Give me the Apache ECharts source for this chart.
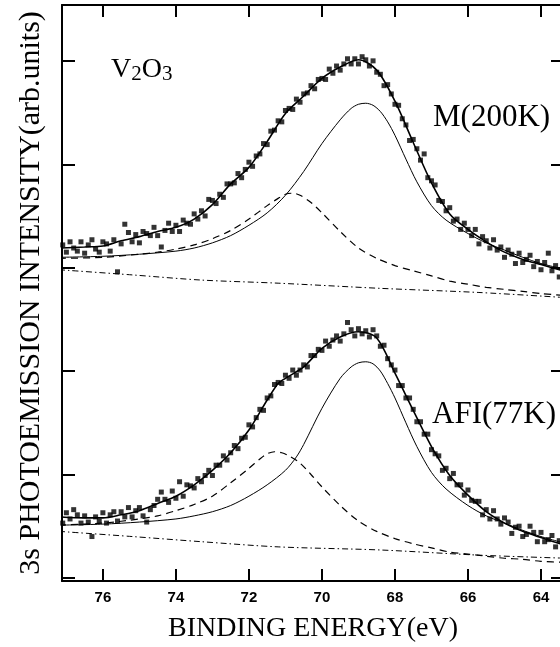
<!DOCTYPE html>
<html><head><meta charset="utf-8">
<script src="https://cdn.jsdelivr.net/npm/echarts@6/dist/echarts.min.js"></script>
<style>html,body{margin:0;padding:0;background:#fff}#c{width:560px;height:647px}</style>
</head><body><div id="c"></div>
<script>
// ---- tick values / titles ----
const xTicks = [64, 66, 68, 70, 72, 74, 76];
const yTicks = [0, 1, 2, 3, 4, 5];
const xTitle = 'BINDING ENERGY(eV)';
const yTitle = '3s PHOTOEMISSION INTENSITY(arb.units)';
const labelM = 'M(200K)';
const labelA = 'AFI(77K)';

// ---- measured points (binding energy, eV) ----
const dotEnergy = [77.1,77.0,76.9,76.8,76.7,76.6,76.5,76.4,76.3,76.2,76.1,76.0,75.9,75.8,75.7,75.6,75.5,75.4,75.3,75.2,75.1,75.0,74.9,74.8,74.7,74.6,74.5,74.4,74.3,74.2,74.1,74.0,73.9,73.8,73.7,73.6,73.5,73.4,73.3,73.2,73.1,73.0,72.9,72.8,72.7,72.6,72.5,72.4,72.3,72.2,72.1,72.0,71.9,71.8,71.7,71.6,71.5,71.4,71.3,71.2,71.1,71.0,70.9,70.8,70.7,70.6,70.5,70.4,70.3,70.2,70.1,70.0,69.9,69.8,69.7,69.6,69.5,69.4,69.3,69.2,69.1,69.0,68.9,68.8,68.7,68.6,68.5,68.4,68.3,68.2,68.1,68.0,67.9,67.8,67.7,67.6,67.5,67.4,67.3,67.2,67.1,67.0,66.9,66.8,66.7,66.6,66.5,66.4,66.3,66.2,66.1,66.0,65.9,65.8,65.7,65.6,65.5,65.4,65.3,65.2,65.1,65.0,64.9,64.8,64.7,64.6,64.5,64.4,64.3,64.2,64.1,64.0,63.9,63.8,63.7,63.6,63.5];
// M (200K) measured intensity
const mDots = [3.22,3.15,3.25,3.19,3.16,3.25,3.14,3.22,3.27,3.18,
3.15,3.25,3.23,3.16,3.27,2.96,3.23,3.42,3.34,3.25,
3.32,3.24,3.35,3.33,3.31,3.39,3.31,3.20,3.36,3.43,
3.35,3.41,3.35,3.46,3.43,3.42,3.52,3.47,3.55,3.50,
3.66,3.65,3.62,3.71,3.68,3.81,3.81,3.82,3.91,3.87,
3.95,4.02,3.98,4.08,4.10,4.20,4.19,4.32,4.33,4.42,
4.41,4.52,4.54,4.53,4.63,4.60,4.68,4.69,4.76,4.73,
4.82,4.83,4.82,4.92,4.88,4.95,4.91,4.97,5.02,4.97,
5.02,4.97,5.04,5.01,4.95,5.00,4.89,4.87,4.76,4.77,
4.68,4.58,4.57,4.44,4.38,4.23,4.24,4.15,4.04,4.10,
3.87,3.84,3.80,3.65,3.64,3.55,3.58,3.45,3.47,3.37,
3.43,3.37,3.31,3.37,3.23,3.30,3.26,3.19,3.27,3.17,
3.20,3.10,3.17,3.13,3.04,3.14,3.05,3.08,3.12,3.01,
3.06,2.98,3.05,3.14,2.97,3.02,2.91];
// AFI (77K) measured intensity
const aDots = [0.53,0.63,0.57,0.66,0.61,0.53,0.60,0.54,0.40,0.59,
0.55,0.63,0.53,0.61,0.64,0.55,0.64,0.59,0.68,0.59,
0.65,0.68,0.60,0.54,0.66,0.70,0.76,0.83,0.76,0.73,
0.84,0.77,0.93,0.79,0.90,0.89,0.87,0.96,0.93,0.99,
1.04,0.99,1.09,1.09,1.18,1.14,1.21,1.28,1.25,1.35,
1.36,1.48,1.46,1.55,1.63,1.62,1.74,1.76,1.87,1.89,
1.88,1.96,1.93,2.01,1.96,2.01,2.06,2.04,2.15,2.15,
2.21,2.20,2.29,2.24,2.30,2.34,2.29,2.36,2.47,2.40,
2.34,2.41,2.36,2.39,2.33,2.40,2.34,2.24,2.25,2.12,
2.06,2.01,1.86,1.86,1.74,1.74,1.63,1.51,1.51,1.39,
1.39,1.24,1.20,1.18,1.04,1.06,0.96,1.01,0.90,0.90,
0.80,0.85,0.75,0.74,0.74,0.61,0.66,0.57,0.65,0.57,
0.52,0.58,0.54,0.43,0.49,0.50,0.40,0.42,0.50,0.44,
0.35,0.44,0.35,0.37,0.41,0.30,0.36];

// ---- M (200K) fitted curves ----
const mFitEnergy = [77.2,76.5,76.0,75.5,75.0,74.5,74.0,73.5,73.0,72.5,72.0,71.5,71.0,70.5,70.0,69.5,69.0,68.5,68.0,67.5,67.0,66.5,66.0,65.5,65.0,64.5,64.0,63.3];
const mFit = [3.19,3.20,3.21,3.26,3.30,3.35,3.39,3.47,3.61,3.81,3.97,4.22,4.49,4.66,4.83,4.94,5.01,4.91,4.61,4.21,3.82,3.52,3.37,3.25,3.15,3.08,3.03,2.96];
const mMainEnergy = [77.2,76.0,75.0,74.0,73.5,73.0,72.5,72.0,71.5,71.0,70.5,70.0,69.5,69.2,69.0,68.8,68.6,68.4,68.2,68.0,67.7,67.4,67.0,66.6,66.0,65.5,65.0,64.5,64.0,63.3];
const mMain = [3.10,3.11,3.13,3.16,3.19,3.24,3.31,3.41,3.53,3.70,3.93,4.20,4.43,4.54,4.58,4.59,4.57,4.51,4.41,4.28,4.05,3.83,3.60,3.46,3.33,3.24,3.17,3.10,3.04,2.98];
const mSatEnergy = [77.2,76.0,75.0,74.5,74.0,73.5,73.0,72.5,72.0,71.5,71.2,71.0,70.8,70.6,70.3,70.0,69.5,69.0,68.5,68.0,67.5,67.0,66.5,66.0,65.5,65.0,64.5,64.0,63.3];
const mSat = [3.09,3.10,3.13,3.15,3.18,3.22,3.28,3.36,3.47,3.60,3.67,3.71,3.72,3.70,3.63,3.53,3.35,3.19,3.09,3.02,2.97,2.92,2.87,2.84,2.81,2.79,2.77,2.75,2.73];
const mBgEnergy = [77.2,75.2,73.3,71.2,68.4,65.7,63.3];
const mBg = [2.98,2.93,2.88,2.85,2.80,2.76,2.71];

// ---- AFI (77K) fitted curves ----
const aFitEnergy = [77.2,76.5,76.0,75.5,75.0,74.5,74.0,73.5,73.0,72.5,72.0,71.5,71.2,71.0,70.5,70.0,69.5,69.0,68.5,68.0,67.5,67.0,66.5,66.0,65.5,65.0,64.5,64.0,63.3];
const aFit = [0.59,0.58,0.58,0.61,0.65,0.72,0.79,0.90,1.04,1.21,1.43,1.72,1.88,1.93,2.04,2.22,2.33,2.38,2.32,1.98,1.62,1.27,0.99,0.80,0.64,0.53,0.45,0.39,0.31];
const aMainEnergy = [77.2,76.0,75.0,74.0,73.5,73.0,72.5,72.0,71.5,71.0,70.7,70.5,70.0,69.5,69.2,69.0,68.8,68.6,68.4,68.2,68.0,67.7,67.4,67.0,66.6,66.0,65.5,65.0,64.5,64.0,63.3];
const aMain = [0.51,0.52,0.54,0.57,0.60,0.64,0.70,0.79,0.90,1.04,1.17,1.29,1.64,1.93,2.04,2.08,2.09,2.07,2.00,1.88,1.74,1.50,1.27,1.02,0.86,0.70,0.60,0.53,0.46,0.40,0.33];
const aSatEnergy = [77.2,76.0,75.0,74.5,74.0,73.5,73.0,72.5,72.0,71.7,71.5,71.3,71.1,70.9,70.6,70.3,70.0,69.5,69.0,68.5,68.0,67.5,67.0,66.5,66.0,65.5,65.0,64.5,64.0,63.3];
const aSat = [0.51,0.53,0.57,0.60,0.65,0.71,0.79,0.92,1.06,1.15,1.20,1.22,1.21,1.18,1.11,1.00,0.88,0.70,0.55,0.45,0.38,0.33,0.29,0.25,0.23,0.21,0.19,0.18,0.16,0.15];
const aBgEnergy = [77.2,75.2,73.3,71.2,68.4,65.7,63.3];
const aBg = [0.45,0.40,0.35,0.30,0.27,0.22,0.19];

// ---- chart ----
const pairs = (e, v) => e.map((x, i) => [x, v[i]]);
const ink = '#000';
const serif = '"Liberation Serif", "Times New Roman", serif';

function lineSeries(e, v, width, type) {
  return { type: 'line', xAxisIndex: 0, yAxisIndex: 0, data: pairs(e, v),
    smooth: 0.3,
    showSymbol: false, symbol: 'none', clip: true,
    lineStyle: { color: ink, width: width, type: type } };
}
function dotSeries(v) {
  return { type: 'scatter', xAxisIndex: 0, yAxisIndex: 0, data: pairs(dotEnergy, v),
    symbol: 'rect', symbolSize: 5, itemStyle: { color: ink }, clip: true };
}

const xRange = { min: 63.37, max: 77.12 };
const yRange = { min: -0.03, max: 5.54 };
const axLine = { show: true, onZero: false, lineStyle: { color: ink, width: 2 } };

const chart = echarts.init(document.getElementById('c'), null, { renderer: 'canvas' });
chart.setOption({
  animation: false,
  backgroundColor: '#fff',
  grid: { left: 62, top: 5, right: -4, bottom: 66, outerBoundsMode: 'none', containLabel: false },
  xAxis: [
    { type: 'value', inverse: true, position: 'bottom', ...xRange,
      axisLine: axLine,
      axisTick: { show: true, inside: true, length: 12, customValues: xTicks, lineStyle: { color: ink, width: 2 } },
      axisLabel: { show: true, customValues: xTicks, margin: 9, color: ink,
        fontFamily: '"Liberation Sans", Arial, sans-serif', fontWeight: 'bold', fontSize: 15 },
      splitLine: { show: false },
      name: xTitle, nameLocation: 'middle', nameGap: 34,
      nameTextStyle: { fontFamily: serif, fontSize: 28, color: ink } },
    { type: 'value', inverse: true, position: 'top', ...xRange,
      axisLine: axLine,
      axisTick: { show: true, inside: true, length: 12, customValues: xTicks, lineStyle: { color: ink, width: 2 } },
      axisLabel: { show: false }, splitLine: { show: false } }
  ],
  yAxis: [
    { type: 'value', position: 'left', ...yRange,
      axisLine: axLine,
      axisTick: { show: true, inside: true, length: 13, customValues: yTicks, lineStyle: { color: ink, width: 2 } },
      axisLabel: { show: false }, splitLine: { show: false },
      name: yTitle, nameLocation: 'middle', nameGap: 16,
      nameTextStyle: { fontFamily: serif, fontSize: 30, color: ink } },
    { type: 'value', position: 'right', ...yRange,
      axisLine: axLine,
      axisTick: { show: true, inside: true, length: 13, customValues: yTicks, lineStyle: { color: ink, width: 2 } },
      axisLabel: { show: false }, splitLine: { show: false } }
  ],
  series: [
    lineSeries(mBgEnergy, mBg, 1, [6, 3, 1.5, 3]),
    lineSeries(mSatEnergy, mSat, 1.2, [7, 5]),
    lineSeries(mMainEnergy, mMain, 1, 'solid'),
    lineSeries(mFitEnergy, mFit, 1.6, 'solid'),
    dotSeries(mDots),
    lineSeries(aBgEnergy, aBg, 1, [6, 3, 1.5, 3]),
    lineSeries(aSatEnergy, aSat, 1.2, [7, 5]),
    lineSeries(aMainEnergy, aMain, 1, 'solid'),
    lineSeries(aFitEnergy, aFit, 1.6, 'solid'),
    dotSeries(aDots)
  ],
  graphic: [
    { type: 'text', x: 111, y: 70, style: {
        text: '{a|V}{b|2}{a|O}{b|3}', verticalAlign: 'middle', fill: ink,
        rich: { a: { fontFamily: serif, fontSize: 28, lineHeight: 30, verticalAlign: 'middle', fill: ink },
                b: { fontFamily: serif, fontSize: 21, lineHeight: 21, verticalAlign: 'bottom', fill: ink } } } },
    { type: 'text', x: 433, y: 118, style: { text: labelM, fontFamily: serif, fontSize: 31, fill: ink, verticalAlign: 'middle' } },
    { type: 'text', x: 432, y: 415, style: { text: labelA, fontFamily: serif, fontSize: 31, fill: ink, verticalAlign: 'middle' } }
  ]
});
</script>
</body></html>
